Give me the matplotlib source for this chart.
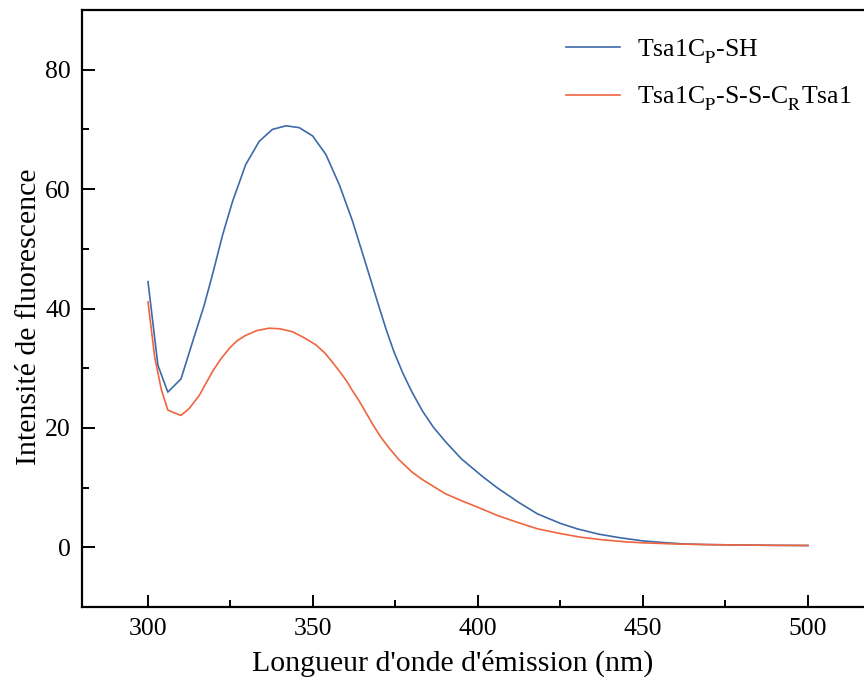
import numpy as np
import matplotlib.pyplot as plt
from matplotlib.ticker import MultipleLocator

# ---------- data ----------
wl_sh = [300, 303, 306, 310, 313.5, 317, 319.5, 322.6, 325.6, 329.6, 333.7,
         337.7, 341.8, 345.8, 349.9, 353.9, 358, 362, 366.1, 369.6, 372.1,
         374.5, 377.2, 380, 383.2, 386.5, 390.3, 395, 401.5, 406, 412.4, 418,
         425, 430, 436.6, 443, 450, 456, 462.7, 470, 480, 490, 500]
int_sh = [44.5, 30.5, 26.0, 28.2, 34.4, 40.5, 45.6, 52.3, 57.9, 64.1, 68.0,
          70.0, 70.6, 70.3, 68.9, 65.8, 60.7, 54.6, 47.3, 41.0, 36.6, 32.8,
          29.2, 26.0, 22.8, 20.1, 17.6, 14.8, 11.8, 9.9, 7.5, 5.6, 4.0, 3.1,
          2.2, 1.6, 1.07, 0.8, 0.55, 0.45, 0.38, 0.33, 0.3]

wl_ss = [300, 302, 304, 306, 308, 310, 312.4, 315.5, 319.5, 322, 324.6, 327,
         329.6, 333, 336.7, 340, 343.8, 347, 350.9, 353.5, 355.9, 358, 360,
         362, 364, 366, 368.1, 370.5, 373.1, 376, 380, 383, 386.2, 390, 395,
         400, 406, 412.4, 418, 425, 431, 437, 445, 450, 460, 470, 480, 490,
         500]
int_ss = [41.1, 32.0, 26.5, 23.0, 22.5, 22.1, 23.2, 25.4, 29.4, 31.5, 33.3,
          34.6, 35.5, 36.3, 36.7, 36.6, 36.1, 35.2, 33.9, 32.6, 31.0, 29.5,
          28.0, 26.2, 24.5, 22.6, 20.6, 18.5, 16.6, 14.7, 12.6, 11.4, 10.3,
          9.0, 7.8, 6.7, 5.3, 4.1, 3.1, 2.3, 1.7, 1.3, 0.9, 0.75, 0.55, 0.45,
          0.38, 0.33, 0.3]

labels = [r"Tsa1C$_{\rm P}$-SH",
          r"Tsa1C$_{\rm P}$-S-S-C$_{\rm R}$Tsa1"]
colors = ["#3d6aa8", "#f0653f"]

# ---------- style ----------
plt.rcParams["font.family"] = ["Liberation Serif", "DejaVu Serif"]
plt.rcParams["mathtext.fontset"] = "stix"

# drop the subscripts a bit lower, like in the original figure
try:
    import matplotlib._mathtext as _mt
    _mt.STIXFontConstants.sub1 = 0.65
except Exception:
    pass

fig = plt.figure(figsize=(8.64, 6.82), dpi=100)
ax = fig.add_axes([82 / 864, 75 / 682, 792 / 864, 597 / 682])

ax.plot(wl_sh, int_sh, color=colors[0], lw=1.2, label=labels[0])
ax.plot(wl_ss, int_ss, color=colors[1], lw=1.2, label=labels[1])

ax.set_xlim(280, 520)
ax.set_ylim(-10, 90)
ax.xaxis.set_major_locator(MultipleLocator(50))
ax.xaxis.set_minor_locator(MultipleLocator(25))
ax.yaxis.set_major_locator(MultipleLocator(20))
ax.yaxis.set_minor_locator(MultipleLocator(10))
ax.tick_params(which="both", direction="in", width=1.4, labelsize=18.5,
               top=False, right=False)
ax.tick_params(which="major", length=9, pad=8)
ax.tick_params(which="minor", length=5)
for sp in ax.spines.values():
    sp.set_linewidth(1.6)

ax.set_xlabel("Longueur d'onde d'émission (nm)", fontsize=21.5)
ax.set_ylabel("Intensité de fluorescence", fontsize=21.5)
ax.xaxis.set_label_coords(0.468, -0.072)
ax.yaxis.set_label_coords(-0.05, 0.487)

ax.legend(loc="upper left", bbox_to_anchor=(0.582, 0.993), frameon=False,
          fontsize=18.5, handlelength=2.1, handletextpad=0.65, labelspacing=0.72)

fig.savefig("out.png", dpi=100)
